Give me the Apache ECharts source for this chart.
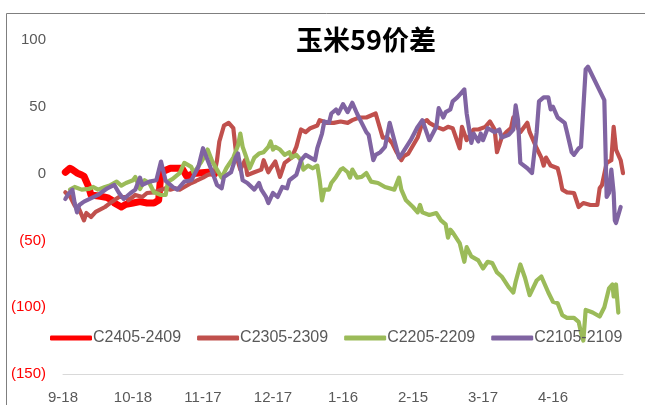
<!DOCTYPE html>
<html>
<head>
<meta charset="utf-8">
<script src="https://cdn.jsdelivr.net/npm/echarts@6/dist/echarts.min.js"></script>
<style>
  html, body { margin: 0; padding: 0; background: #fff; }
  #chart { width: 645px; height: 405px; }
</style>
</head>
<body>
<div id="chart"></div>
<script>
// x = days since 9-18, tick labels every 30 days
var xTickLabels = ["9-18", "10-18", "11-17", "12-17", "1-16", "2-15", "3-17", "4-16"];
var seriesNames = ["C2405-2409", "C2305-2309", "C2205-2209", "C2105-2109"];

// C2405-2409 (current contract, only early part)
var c2405 = [
  [1, 1], [3, 4], [4, 3], [6, 0.5], [8, -1], [9, -2], [11, -10], [12, -16],
  [16, -17], [19, -18], [21, -20], [22, -22], [25, -25], [27, -23], [30, -22],
  [33, -21], [36, -22], [39, -22], [41, -20], [42, 1], [46, 4], [51, 4],
  [53, -2], [56, 0], [62, 1], [65, 0]
];

// C2305-2309
var c2305 = [
  [1, -14], [3, -17], [5, -24], [7, -27], [9, -35], [10, -29.5], [12, -32.5],
  [14, -28.7], [18, -25], [21, -21], [24, -17.5], [27, -17.5], [28, -20],
  [31, -16], [34, -17.5], [36, -14.5], [39, -14], [44, -11], [46, -12],
  [48, -11], [50, -12], [52, -10], [55, -7], [57, -5.5], [60, -3], [62, -1],
  [65, 1], [66, 10], [67, 24], [69, 36], [71, 38], [73, 34], [74, 18], [75, 9],
  [76, 3], [78, 10], [79, -1], [82, 1], [85, 3], [86, 10], [88, 1], [89, 4],
  [91, 9], [93, -2.5], [95, 8], [98, 12], [100, 20], [102, 33], [104, 31],
  [106, 34], [109, 36], [110, 40], [113, 38], [116, 38], [119, 39], [122, 38],
  [124, 40], [127, 42], [130, 42], [134, 45], [136, 33], [137, 27], [139, 27],
  [141, 23], [143, 16], [145, 10], [146, 13], [148, 15], [150, 21], [152, 27],
  [154, 38], [156, 40], [157, 38], [160, 35], [163, 33], [165, 35], [167, 34],
  [170, 19], [171, 35], [173, 25], [176, 33], [178, 33], [181, 35], [183, 39],
  [185, 33], [186, 16], [188, 27], [190, 31], [192, 34], [193, 42], [195, 34],
  [196, 31], [199, 38], [200, 31], [203, 19], [205, 12], [206, 6], [207, 12],
  [209, 6], [212, 4], [213, -3], [214, -12], [216, -14], [219, -14.5],
  [221, -25], [223, -22], [226, -23.5], [229, -23.5], [230, -11], [231, -8.5],
  [233, 8], [235, 10], [236, 35], [237, 18], [239, 10], [240, 0.4]
];

// C2205-2209
var c2205 = [
  [3, -12], [5, -10], [8, -12], [11, -11.5], [13, -10], [15, -12], [18, -10],
  [20, -9], [23, -6], [25, -9], [27, -7], [30, -5], [31, -2.5], [33, -11.5],
  [35, -5], [37, -7], [39, -14], [42, -16], [44, -16], [45, -6], [47, -4],
  [50, 0.4], [52, 8], [55, 5], [56, 0.4], [57, 3], [59, 8], [61, 14], [62, 18],
  [64, 9], [66, 3], [68, -3], [70, 4], [73, 12], [75, 21], [76, 30], [77, 20],
  [78, 15], [79, 10], [80, 4], [82, 12], [84, 15], [86, 16], [88, 20], [89, 24],
  [90, 18], [91, 20], [93, 18], [95, 14], [97, 16], [98, 12], [100, 14],
  [102, 10], [103, 3], [105, 6], [107, 4], [109, 6], [110, -5], [111, -20],
  [112, -12], [114, -12], [115, -7], [117, -2.5], [119, 3], [120, 4], [122, 1],
  [123, -3], [124, 3], [126, -3], [128, -2.5], [130, 0.4], [132, -6], [135, -7],
  [138, -10], [142, -12], [144, -3], [145, -12], [147, -20], [150, -25],
  [152, -29], [153, -23.5], [154, -29], [157, -31], [160, -29.5], [162, -35],
  [164, -38], [165, -48], [166, -42], [167, -44], [170, -52], [172, -66],
  [173, -55], [175, -62], [178, -65], [180, -71], [182, -66], [184, -67],
  [186, -74], [188, -77], [191, -85], [193, -89], [194, -81], [196, -68],
  [198, -78], [200, -91], [203, -80], [205, -77], [208, -89], [210, -96],
  [212, -97], [214, -106], [216, -108], [219, -108], [221, -111], [222, -119],
  [223, -125], [224, -102], [227, -104], [230, -107], [232, -100], [234, -86],
  [235.5, -83], [236, -92], [237, -83], [238, -104]
];

// C2105-2109
var c2105 = [
  [1, -19], [2, -16], [4, -12], [5, -22], [6, -29], [7, -23.5], [9, -21],
  [15, -16], [19, -11], [22, -8.5], [24, -14.5], [26, -19], [29, -14.5],
  [31, -12], [33, -3], [34, -8.5], [37, -6], [40, -5], [42, 9], [44, -5.5],
  [47, -10], [49, -12], [52, -6], [55, -5], [58, 5], [60, 19], [62, 10],
  [64, 1], [66, -8.5], [68, -11], [69, -2.5], [72, 1], [74, 12], [75, 15],
  [76, 5], [77, -5], [79, -7], [82, -12], [84, -7], [85, -12], [87, -17.5],
  [88, -22], [90, -14.5], [92, -17.5], [94, -10], [96, -11], [97, -5],
  [100, -1], [102, 10], [104, 14], [106, 12], [108, 10], [109, 19], [111, 30],
  [112, 39], [114, 38], [115, 45], [117, 48], [118, 45], [120, 52], [122, 46],
  [124, 53], [126, 45], [128, 38], [130, 31], [131, 29], [133, 10], [134, 14],
  [136, 16], [138, 20], [140, 38], [142, 25], [144, 12], [145, 14], [149, 25],
  [152, 35], [154, 40], [156, 30], [157, 25], [160, 35], [161, 49], [163, 42],
  [164, 46], [166, 48], [167, 54], [169, 57], [171, 61], [172, 63], [173, 45],
  [175, 23], [176, 30], [178, 24], [179, 30], [180, 25], [182, 34], [183, 33],
  [185, 31], [187, 33], [188, 27], [191, 29], [193, 33], [194, 51], [195, 40],
  [196, 8], [199, 4], [201, 0.4], [203, 31], [204, 54], [206, 57], [208, 57],
  [209, 48], [210, 50], [212, 42], [215, 38], [216, 31], [218, 16], [219, 14],
  [221, 19], [222, 20], [224, 78], [225, 80], [232, 55], [233, -17.5],
  [234, -14.5], [235, 3], [236, -14.5], [236.5, -35], [237, -37], [239, -25]
];

var colors = ["#ff0000", "#c0504d", "#9bbb59", "#8064a2"];
var lineWidths = [7, 4.2, 4.2, 4.2];
var seriesData = [c2405, c2305, c2205, c2105];

var chart = echarts.init(document.getElementById("chart"));

var series = [];
seriesNames.forEach(function (name, i) {
  series.push({
    name: name,
    type: "line",
    data: seriesData[i],
    showSymbol: false,
    symbol: "none",
    color: colors[i],
    lineStyle: {
      width: lineWidths[i],
      color: colors[i],
      join: "round",
      cap: "round"
    },
    animation: false
  });
});

chart.setOption({
  animation: false,
  title: {
    text: "玉米59价差",
    left: 361,
    textAlign: "center",
    top: 21,
    textStyle: {
      fontFamily: "Noto Sans CJK SC",
      fontSize: 27,
      fontWeight: "bold",
      color: "#000"
    }
  },
  graphic: [
    {
      type: "rect",
      shape: { x: 6.5, y: 13.5, width: 700, height: 500 },
      style: { fill: "none", stroke: "#7f7f7f", lineWidth: 1 },
      silent: true
    }
  ],
  legend: {
    data: seriesNames,
    left: 45,
    top: 325,
    icon: "roundRect",
    itemWidth: 42,
    itemHeight: 5,
    itemGap: 16,
    textStyle: {
      fontFamily: "Liberation Sans",
      fontSize: 16,
      color: "#595959",
      padding: [0, 0, 0, -4]
    }
  },
  grid: {
    left: 63,
    right: 22,
    top: 40,
    bottom: 31,
    containLabel: false
  },
  xAxis: {
    type: "value",
    min: 0,
    max: 240,
    interval: 30,
    axisLine: { show: true, onZero: false, lineStyle: { color: "#d9d9d9", width: 1 } },
    axisTick: { show: false },
    splitLine: { show: false },
    axisLabel: {
      margin: 16,
      fontFamily: "Liberation Sans",
      fontSize: 15,
      color: "#595959",
      formatter: function (v) {
        var idx = Math.round(v / 30);
        return xTickLabels[idx] || "";
      }
    }
  },
  yAxis: {
    type: "value",
    min: -150,
    max: 100,
    interval: 50,
    axisLine: { show: false },
    axisTick: { show: false },
    splitLine: { show: false },
    axisLabel: {
      margin: 17,
      fontFamily: "Liberation Sans",
      fontSize: 15,
      color: function (v) {
        return v < 0 ? "#ff0000" : "#595959";
      },
      formatter: function (v) {
        return v < 0 ? "(" + (-v) + ")" : String(v);
      }
    }
  },
  series: series
});
</script>
</body>
</html>
